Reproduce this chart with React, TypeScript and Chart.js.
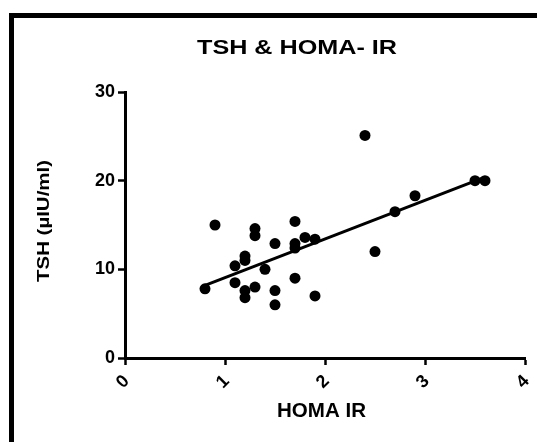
import React, { useEffect, useRef } from "react";
import { Chart, registerables } from "chart.js";

Chart.register(...registerables);

const FONT = "'Liberation Sans', Arial, Helvetica, sans-serif";

const TITLE = "TSH & HOMA- IR";
const X_TITLE = "HOMA IR";
const Y_TITLE = "TSH (µIU/ml)";

const homaIR: number[] = [
  0.8, 0.9, 1.1, 1.1, 1.2, 1.2, 1.2, 1.2, 1.3, 1.3, 1.3, 1.4, 1.5, 1.5, 1.5,
  1.7, 1.7, 1.7, 1.7, 1.8, 1.9, 1.9, 2.4, 2.5, 2.7, 2.9, 3.5, 3.6,
];
const tsh: number[] = [
  7.8, 15.0, 10.4, 8.5, 11.5, 11.0, 7.6, 6.8, 14.6, 13.8, 8.0, 10.0, 12.9, 7.6,
  6.0, 15.4, 12.9, 12.4, 9.0, 13.6, 13.4, 7.0, 25.1, 12.0, 16.5, 18.3, 20.0,
  20.0,
];

const fitX: number[] = [0.8, 3.6];
const fitY: number[] = [8.2, 20.4];

const xTicks: number[] = [0, 1, 2, 3, 4];
const yTicks: number[] = [0, 10, 20, 30];

function drawStretched(
  ctx: CanvasRenderingContext2D,
  text: string,
  cx: number,
  cy: number,
  size: number,
  targetLen: number,
  angle: number
) {
  ctx.save();
  ctx.font = `bold ${size}px ${FONT}`;
  ctx.textAlign = "center";
  ctx.textBaseline = "middle";
  const w = ctx.measureText(text).width;
  const sx = targetLen / w;
  ctx.translate(cx, cy);
  ctx.rotate(angle);
  ctx.scale(sx, 1);
  ctx.fillText(text, 0, 0);
  ctx.restore();
}

const textPlugin = {
  id: "customTexts",
  afterDraw(chart: any) {
    const ctx: CanvasRenderingContext2D = chart.ctx;
    const xs = chart.scales.x;
    const area = chart.chartArea;
    ctx.save();
    ctx.fillStyle = "#000";
    ctx.font = `bold 18px ${FONT}`;
    ctx.textAlign = "center";
    ctx.textBaseline = "middle";
    xTicks.forEach((v) => {
      const px = xs.getPixelForValue(v) - 2;
      const py = area.bottom + 24;
      ctx.save();
      ctx.translate(px, py);
      ctx.rotate(-Math.PI / 4);
      ctx.fillText(String(v), 0, 0);
      ctx.restore();
    });
    ctx.restore();
    ctx.fillStyle = "#000";
    drawStretched(ctx, TITLE, 297, 48, 20, 200, 0);
    drawStretched(ctx, X_TITLE, 321.5, 412, 19.5, 89, 0);
    drawStretched(ctx, Y_TITLE, 44.5, 221, 16.5, 122, -Math.PI / 2);
  },
};

export default function App() {
  const ref = useRef<HTMLCanvasElement | null>(null);

  useEffect(() => {
    if (!ref.current) return;
    const chart = new Chart(ref.current, {
      type: "scatter",
      data: {
        datasets: [
          {
            type: "line",
            label: "fit",
            data: fitX.map((x, i) => ({ x, y: fitY[i] })),
            borderColor: "#000",
            borderWidth: 3,
            pointRadius: 0,
            fill: false,
            order: 2,
          } as any,
          {
            type: "scatter",
            label: "TSH",
            data: homaIR.map((x, i) => ({ x, y: tsh[i] })),
            backgroundColor: "#000",
            borderColor: "#000",
            pointRadius: 5.5,
            pointBorderWidth: 0,
            order: 1,
          },
        ],
      },
      options: {
        responsive: false,
        animation: false,
        layout: { padding: { top: 92, right: 12, bottom: 0, left: 0 } },
        plugins: {
          legend: { display: false },
          title: { display: false },
          tooltip: { enabled: false },
        },
        scales: {
          x: {
            type: "linear",
            min: 0,
            max: 4,
            afterFit: (s: any) => {
              s.height = 84;
            },
            afterBuildTicks: (s: any) => {
              s.ticks = xTicks.map((v) => ({ value: v }));
            },
            ticks: {
              color: "rgba(0,0,0,0)",
              maxRotation: 0,
              minRotation: 0,
              font: { family: FONT, size: 18, weight: "bold" },
            },
            grid: {
              display: true,
              drawOnChartArea: false,
              drawTicks: true,
              tickLength: 7,
              tickColor: "#000",
              tickWidth: 2.5,
            },
            border: { display: true, color: "#000", width: 3 },
          },
          y: {
            type: "linear",
            min: 0,
            max: 30,
            afterFit: (s: any) => {
              s.width = 125;
            },
            afterBuildTicks: (s: any) => {
              s.ticks = yTicks.map((v) => ({ value: v }));
            },
            ticks: {
              color: "#000",
              padding: 3,
              font: { family: FONT, size: 18, weight: "bold" },
            },
            grid: {
              display: true,
              drawOnChartArea: false,
              drawTicks: true,
              tickLength: 7,
              tickColor: "#000",
              tickWidth: 2.5,
            },
            border: { display: true, color: "#000", width: 3 },
          },
        },
      },
      plugins: [textPlugin],
    });
    return () => chart.destroy();
  }, []);

  return (
    <div
      style={{
        position: "absolute",
        left: 0,
        top: 0,
        width: 537,
        height: 442,
        background: "#fff",
        overflow: "hidden",
      }}
    >
      <div
        style={{
          position: "absolute",
          left: 9,
          top: 13,
          right: 0,
          bottom: 0,
          borderTop: "5px solid #000",
          borderLeft: "5px solid #000",
        }}
      />
      <canvas
        ref={ref}
        width={537}
        height={442}
        style={{ position: "absolute", left: 0, top: 0, display: "block" }}
      />
    </div>
  );
}
